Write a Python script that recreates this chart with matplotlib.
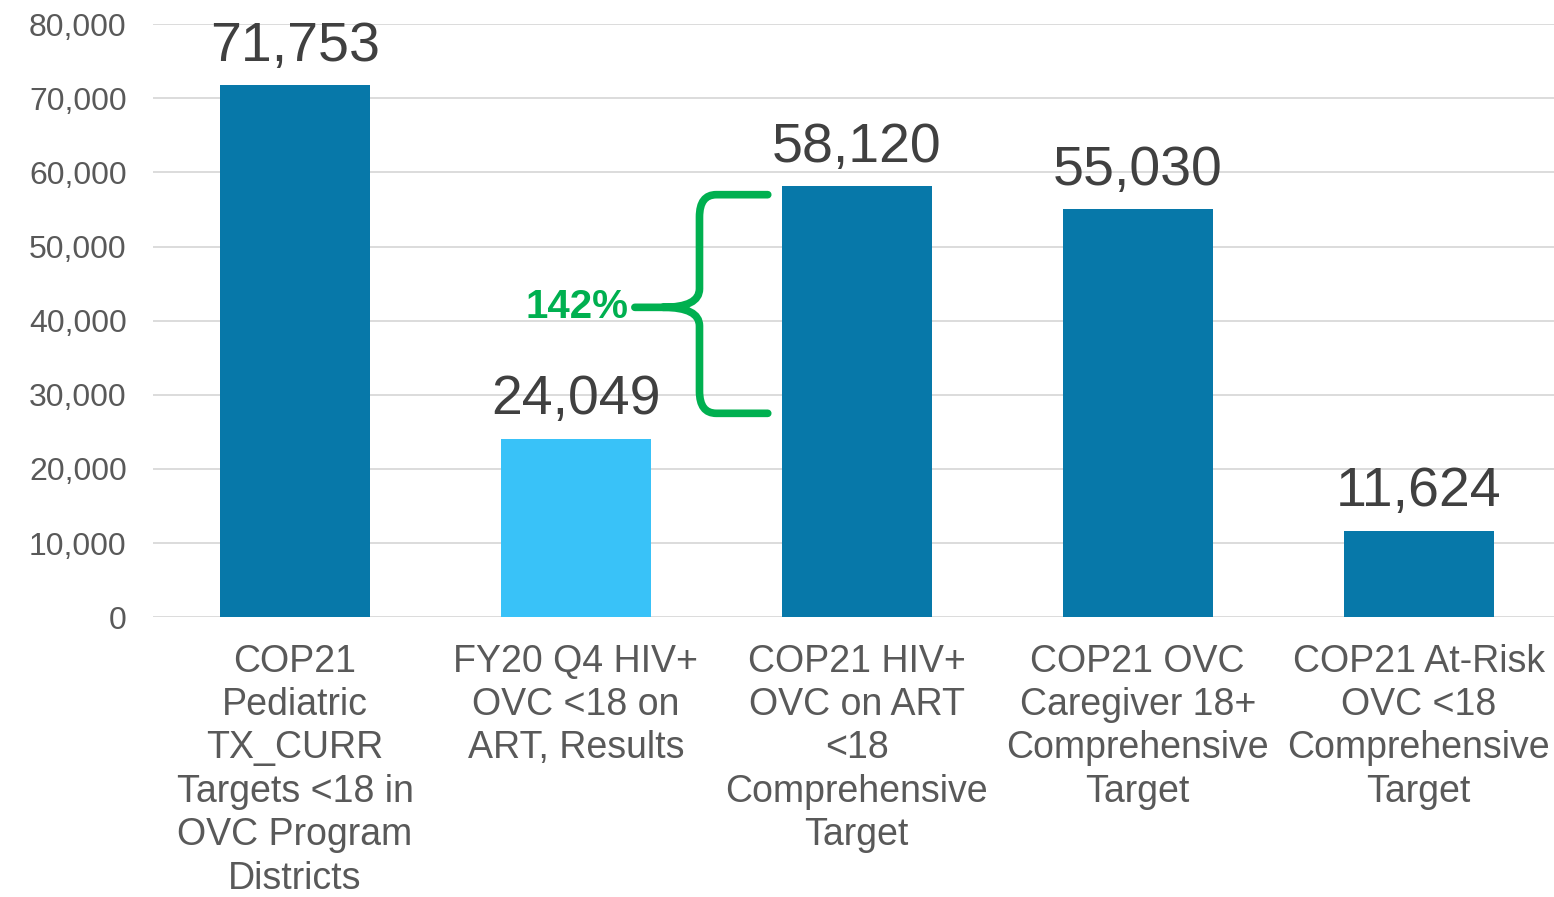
import matplotlib.pyplot as plt
from matplotlib.path import Path
from matplotlib.patches import PathPatch

plt.rcParams['font.family'] = ['Liberation Sans', 'DejaVu Sans']

categories = [
    'COP21\nPediatric\nTX_CURR\nTargets <18 in\nOVC Program\nDistricts',
    'FY20 Q4 HIV+\nOVC <18 on\nART, Results',
    'COP21 HIV+\nOVC on ART\n<18\nComprehensive\nTarget',
    'COP21 OVC\nCaregiver 18+\nComprehensive\nTarget',
    'COP21 At-Risk\nOVC <18\nComprehensive\nTarget',
]
values = [71753, 24049, 58120, 55030, 11624]
bar_colors = ['#0778A9', '#39C2F8', '#0778A9', '#0778A9', '#0778A9']
yticks = [0, 10000, 20000, 30000, 40000, 50000, 60000, 70000, 80000]
pct_label = '142%'

fig = plt.figure(figsize=(15.54, 8.97), dpi=100)
ax = fig.add_axes([0.0985, 0.312, 0.903, 0.661])

x = range(len(values))
bars = ax.bar(x, values, width=0.534, color=bar_colors, zorder=3)
ax.bar_label(bars, labels=[f'{v:,}' for v in values], padding=9,
             fontsize=40, color='#404040')

ax.set_ylim(0, 80000)
ax.set_xlim(-0.505, 4.49)
ax.set_yticks(yticks)
ax.set_yticklabels([f'{t:,}' for t in yticks])
ax.set_xticks(list(x))
ax.set_xticklabels(categories, linespacing=1.265)
ax.tick_params(axis='y', length=0, pad=19, labelsize=23, labelcolor='#595959')
ax.tick_params(axis='x', length=0, pad=19, labelsize=27, labelcolor='#595959')
ax.grid(axis='y', color='#D9D9D9', linewidth=1.3, zorder=0)
for s in ax.spines.values():
    s.set_visible(False)

# curly brace between bar 2 and bar 3
xr, xv, xm, xt = 1.683, 1.44, 1.31, 1.21
yt, ym, yb = 57000, 41800, 27500
verts = [
    (xr, yt), (1.50, yt), (xv, yt), (xv, yt - 3000),
    (xv, ym + 2500), (xv, ym), (xm, ym), (xt, ym),
    (xm, ym), (xv, ym), (xv, ym - 2500),
    (xv, yb + 3000), (xv, yb), (1.50, yb), (xr, yb),
]
codes = [
    Path.MOVETO, Path.LINETO, Path.CURVE3, Path.CURVE3,
    Path.LINETO, Path.CURVE3, Path.CURVE3, Path.LINETO,
    Path.MOVETO, Path.CURVE3, Path.CURVE3,
    Path.LINETO, Path.CURVE3, Path.CURVE3, Path.LINETO,
]
brace = PathPatch(Path(verts, codes), fill=False, edgecolor='#00B050',
                  linewidth=5.5, capstyle='round', joinstyle='round', zorder=4)
ax.add_patch(brace)
ax.text(1.005, ym, pct_label, ha='center', va='center', fontsize=29,
        fontweight='bold', color='#00B050', zorder=5)

fig.savefig('out.png', dpi=100)
